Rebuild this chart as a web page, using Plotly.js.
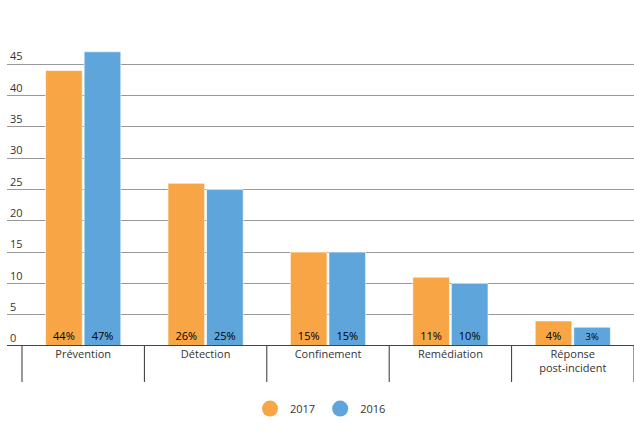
<!DOCTYPE html>
<html><head><meta charset="utf-8">
<script src="https://cdn.plot.ly/plotly-3.0.1.min.js"></script>
<style>body{margin:0}#chart{width:634px;height:432px}</style>
</head><body><div id="chart"></div>
<script>
const categories = ['Prévention', 'Détection', 'Confinement', 'Remédiation', 'Réponse<br>post-incident'];
const values2017 = [44, 26, 15, 11, 4];
const values2016 = [47, 25, 15, 10, 3];
const yTicks = [0, 5, 10, 15, 20, 25, 30, 35, 40, 45, 50];

const idx = categories.map((c, i) => i);
const font = { family: 'Open Sans, sans-serif', size: 11, color: '#333' };

function barTrace(name, vals, color) {
    return {
        type: 'bar', x: idx, y: vals, name: name, showlegend: false,
        marker: { color: color, line: { color: 'rgba(255,255,255,0.6)', width: 1 } },
        text: vals.map(v => v + '%'), textposition: 'inside', insidetextanchor: 'start',
        textfont: { color: '#000', size: 11 }, textangle: 0, hoverinfo: 'none'
    };
}
function legendTrace(name, color) {
    return { type: 'scatter', mode: 'markers', x: [null], y: [null], name: name,
        marker: { color: color, size: 16, symbol: 'circle' } };
}

// category separators below the axis
const shapes = [];
for (let i = 0; i <= categories.length; i++) {
    shapes.push({ type: 'line', xref: 'x', yref: 'paper', x0: i - 0.5, x1: i - 0.5, y0: 0, y1: -0.115,
        line: { color: '#333', width: 1 } });
}
shapes.push({ type: 'line', xref: 'paper', yref: 'y', x0: 0, x1: 1, y0: 0, y1: 0, line: { color: '#444', width: 2 } });

Plotly.newPlot('chart', [
    barTrace('2017', values2017, '#F7A545'),
    barTrace('2016', values2016, '#5DA5DA'),
    legendTrace('2017', '#F7A545'),
    legendTrace('2016', '#5DA5DA')
], {
    width: 634, height: 432,
    margin: { l: 7, r: 0, t: 33, b: 86 },
    font: font,
    barmode: 'group', bargap: 0.37, bargroupgap: 0.05,
    xaxis: { range: [-0.6225, 4.5], tickvals: idx, ticktext: categories, showgrid: false,
        zeroline: false, ticks: '', tickfont: font },
    yaxis: { range: [0, 50], tickvals: yTicks, ticklabelposition: 'inside top', showgrid: true,
        gridcolor: '#999', gridwidth: 1, zeroline: false, tickfont: font, fixedrange: true },
    shapes: shapes,
    legend: { orientation: 'h', x: 0.5, xanchor: 'center', y: -0.2, yanchor: 'middle', font: font },
    plot_bgcolor: '#fff', paper_bgcolor: '#fff'
}, { displayModeBar: false, staticPlot: true });
</script></body></html>
